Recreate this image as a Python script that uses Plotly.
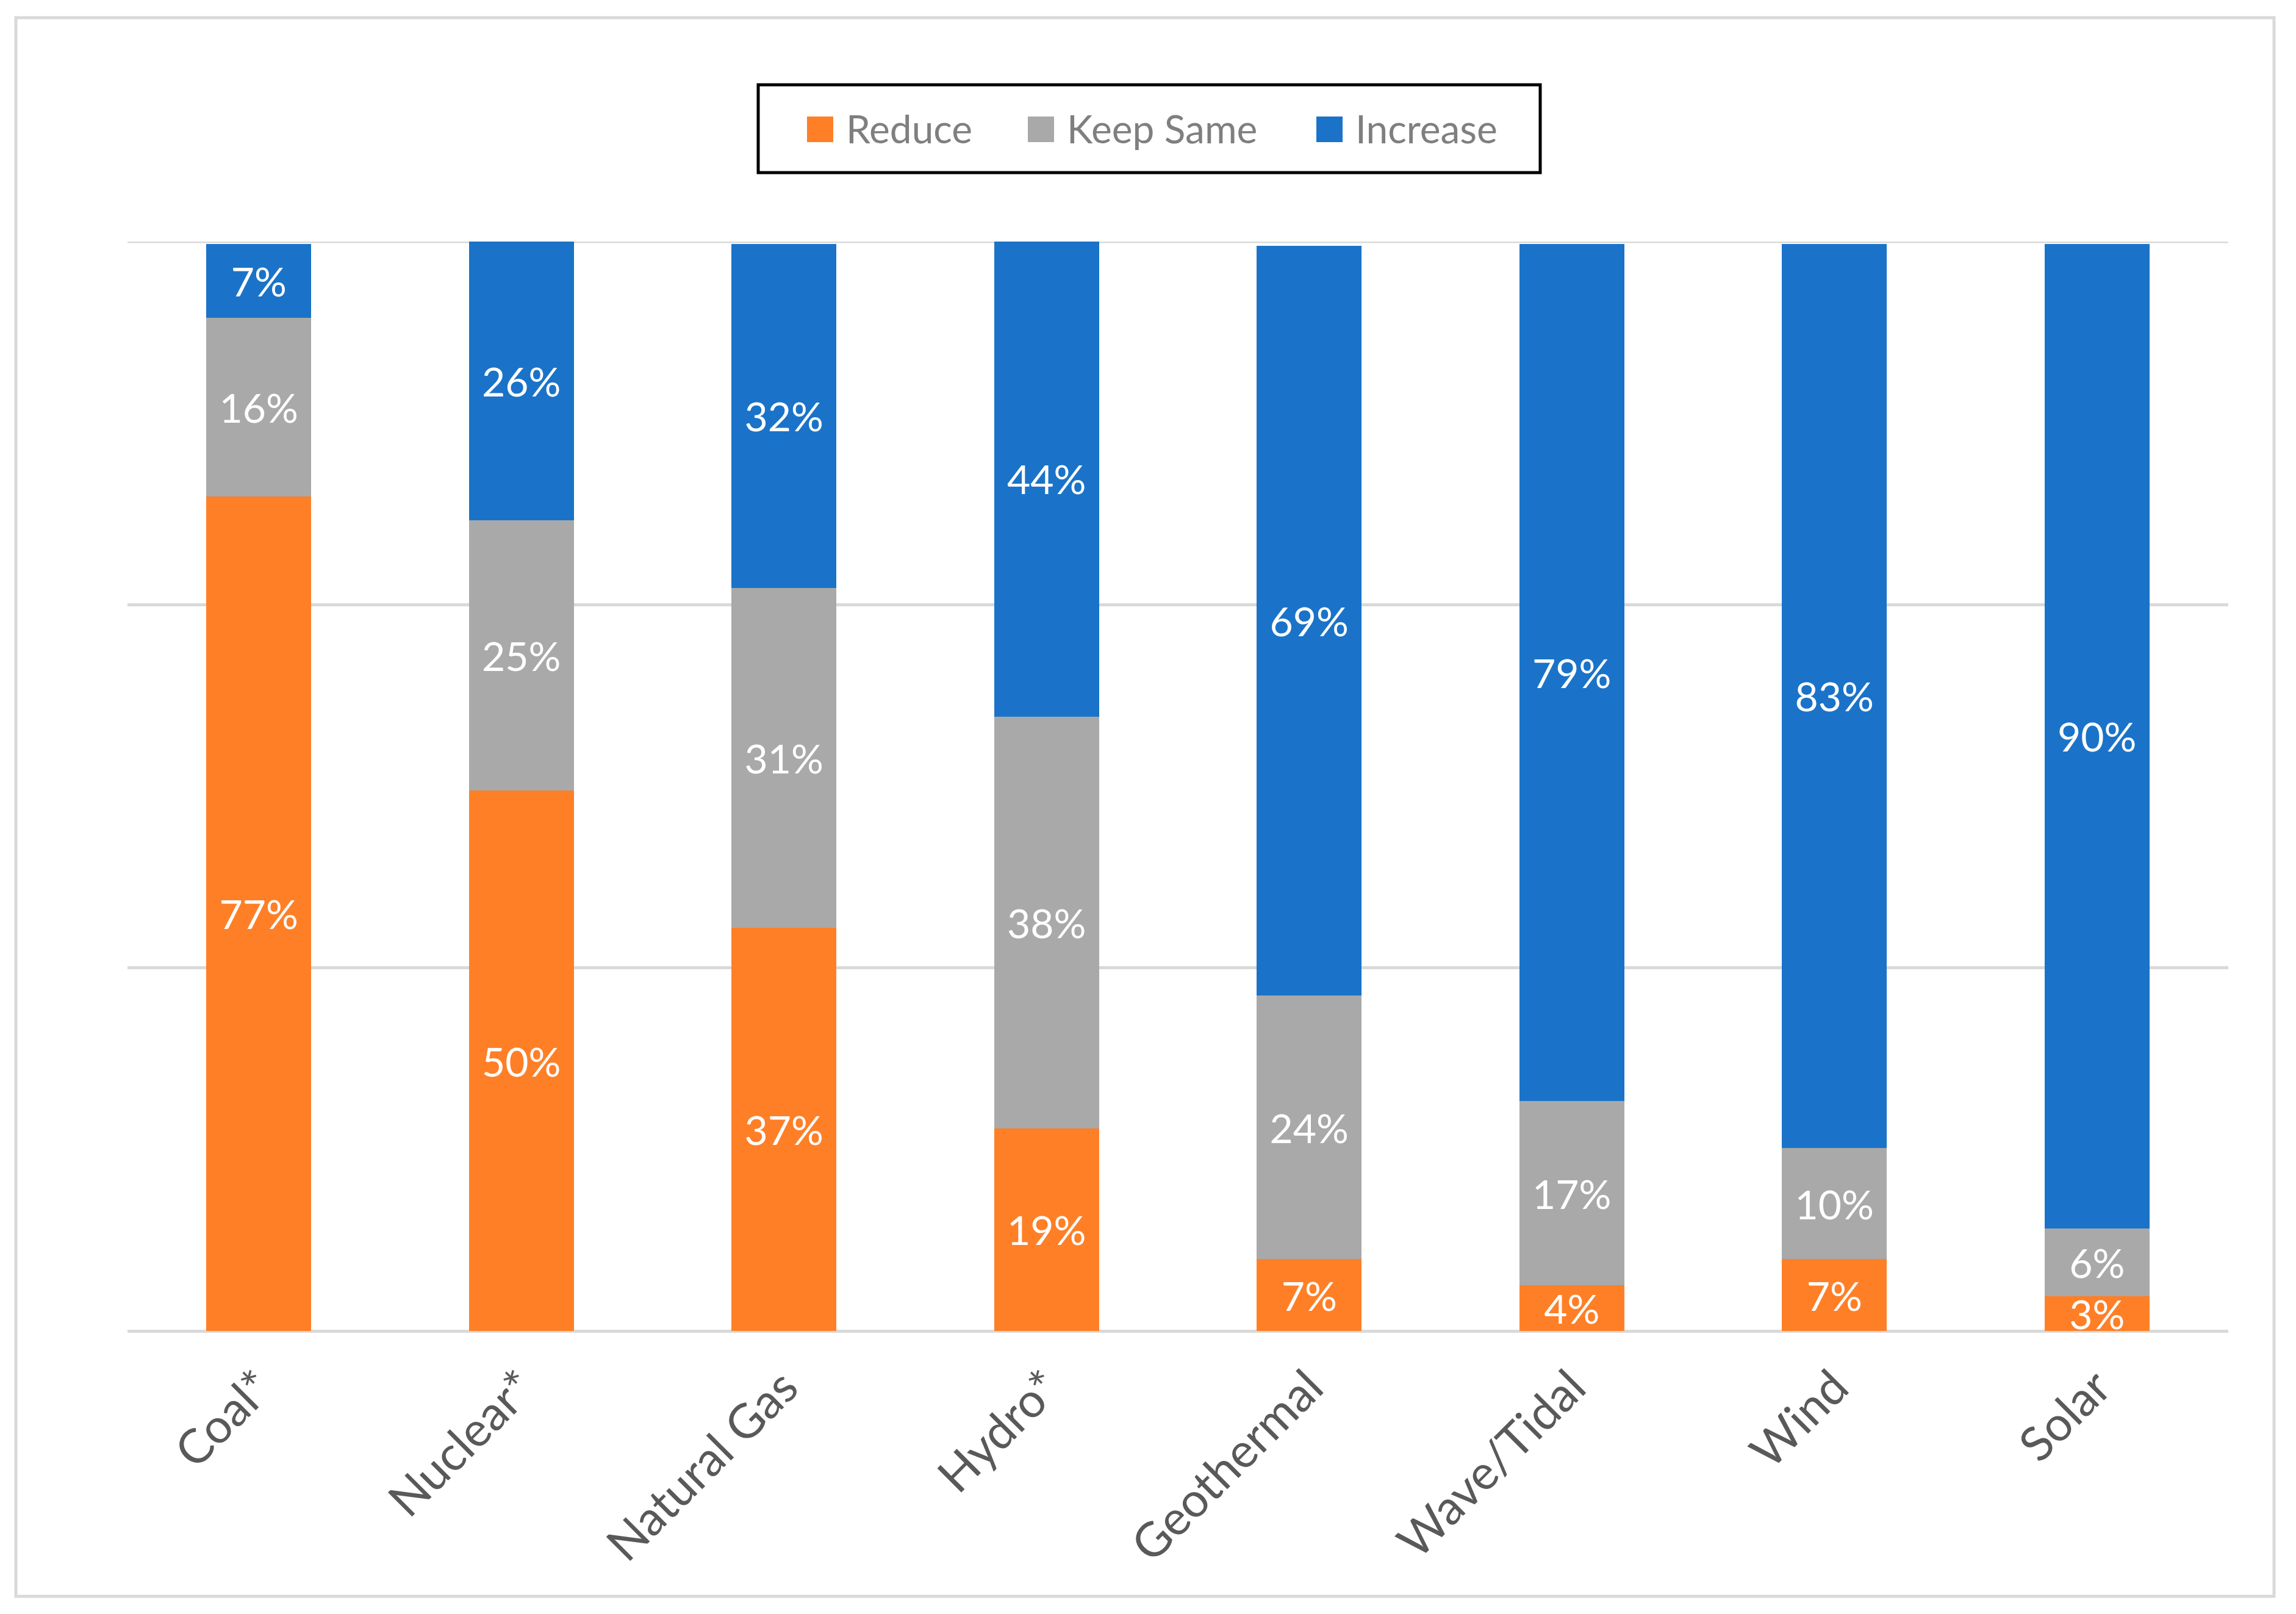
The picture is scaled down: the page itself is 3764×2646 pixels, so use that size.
import plotly.graph_objects as go

categories = ["Coal*", "Nuclear*", "Natural Gas", "Hydro*", "Geothermal", "Wave/Tidal", "Wind", "Solar"]
series_names = ["Reduce", "Keep Same", "Increase"]
reduce_vals = [76.6, 49.6, 37.0, 18.6, 6.6, 4.2, 6.6, 3.2]
keep_vals = [16.4, 24.8, 31.2, 37.8, 24.2, 16.9, 10.2, 6.2]
increase_vals = [6.8, 25.6, 31.6, 43.7, 68.8, 78.7, 83.0, 90.4]
colors = ["#FF7F27", "#A9A9A9", "#1A73C8"]

OFF = 8  # page body margin
W, H = 3764 - 2 * OFF, 2646 - 2 * OFF
ML, MR, MT, MB = 209 - OFF, 111 - OFF, 396 - OFF, 464 - OFF
PW, PH = W - ML - MR, H - MT - MB


def px_x(x):
    return (x - OFF - ML) / PW


def px_y(y):
    return (H - MB - (y - OFF)) / PH


FONT = "Lato"

fig = go.Figure()
for name, vals, col in zip(series_names, [reduce_vals, keep_vals, increase_vals], colors):
    fig.add_trace(go.Bar(
        x=categories, y=vals, name=name,
        marker=dict(color=col, line=dict(width=0)),
        text=vals, texttemplate="%{y:.0f}%",
        textposition="inside", insidetextanchor="middle", textangle=0,
        textfont=dict(family=FONT, size=66, color="white"),
        showlegend=False, hoverinfo="skip",
    ))

shapes = []
annotations = []
# top gridline (plotly skips the gridline at the range edge)
shapes.append(dict(type="line", xref="paper", yref="y", x0=0, x1=1, y0=100, y1=100,
                   line=dict(color="#D9D9D9", width=5), layer="below"))
# outer chart border
shapes.append(dict(type="rect", xref="paper", yref="paper",
                   x0=px_x(26), x1=px_x(3728), y0=px_y(2617), y1=px_y(29),
                   line=dict(color="#D9D9D9", width=5), fillcolor="rgba(0,0,0,0)", layer="below"))
# legend box
shapes.append(dict(type="rect", xref="paper", yref="paper",
                   x0=px_x(1243), x1=px_x(2525), y0=px_y(283), y1=px_y(139),
                   line=dict(color="black", width=5), fillcolor="white"))
sw_x = [1323, 1685, 2158]
for name, col, sx in zip(series_names, colors, sw_x):
    shapes.append(dict(type="rect", xref="paper", yref="paper",
                       x0=px_x(sx), x1=px_x(sx + 43), y0=px_y(233), y1=px_y(191),
                       line=dict(width=0), fillcolor=col))
    annotations.append(dict(xref="paper", yref="paper", x=px_x(sx + 62), y=px_y(210),
                            xanchor="left", yanchor="middle", showarrow=False, text=name,
                            font=dict(family=FONT, size=64, color="#7F7F7F")))

fig.update_layout(
    width=W, height=H,
    margin=dict(l=ML, r=MR, t=MT, b=MB, pad=0),
    barmode="stack", bargap=0.6,
    plot_bgcolor="white", paper_bgcolor="white",
    showlegend=False,
    uniformtext=dict(minsize=66, mode="show"),
    shapes=shapes, annotations=annotations,
    xaxis=dict(tickangle=-45, tickfont=dict(family=FONT, size=78, color="#595959"),
               showgrid=False, showline=False, ticks="", ticklabelstandoff=30,
               range=[-0.5, 7.5]),
    yaxis=dict(range=[0, 100], tickmode="array", tickvals=[0, 100 / 3, 200 / 3, 100],
               showticklabels=False, showgrid=True, gridcolor="#D9D9D9", gridwidth=5,
               zeroline=True, zerolinecolor="#D9D9D9", zerolinewidth=5, showline=False),
)

fig.write_html("out.html")
